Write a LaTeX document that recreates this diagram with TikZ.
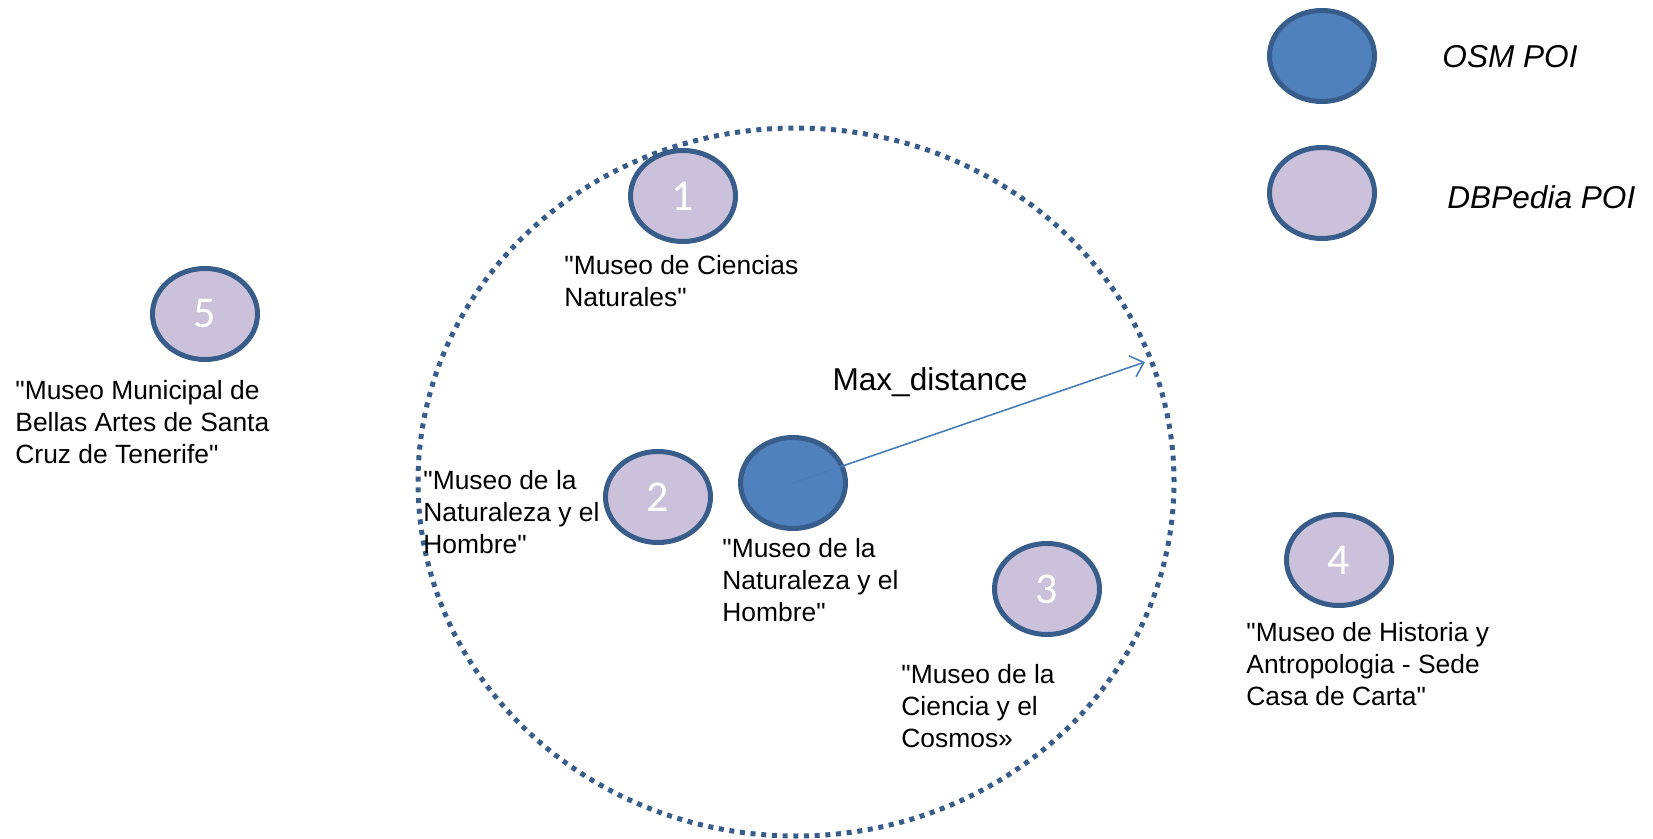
\documentclass[tikz,border=0pt]{standalone}
\usepackage{fontspec}
\setmainfont{Liberation Sans}[Ligatures=TeXOff]
\newfontfamily\numfont{Carlito}
\usetikzlibrary{shapes.geometric,arrows.meta}
\definecolor{osmfill}{HTML}{4F81BD}
\definecolor{poistroke}{HTML}{385D8A}
\definecolor{dbfill}{HTML}{CCC1DA}
\definecolor{arrowblue}{HTML}{4A7EBB}
\begin{document}
\begin{tikzpicture}[x=0.5pt,y=-0.5pt,
 poi/.style={ellipse, draw=poistroke, line width=2.5pt, minimum width=52.5pt, minimum height=45.5pt, inner sep=0pt, font=\numfont\fontsize{22}{26}\selectfont, text=white},
 osm/.style={poi, fill=osmfill},
 dbp/.style={poi, fill=dbfill},
 lbl/.style={anchor=west, align=left, inner sep=0pt, font=\fontsize{13.2}{15.8}\selectfont},
 keytxt/.style={anchor=west, inner sep=0pt, font=\itshape\fontsize{15.8}{19}\selectfont},
 searchrange/.style={draw=poistroke, line width=2.5pt, dash pattern=on 2.5pt off 2.85pt},
 maxarrow/.style={draw=arrowblue, line width=0.8pt, -{Straight Barb[length=6pt,width=11pt]}}
]
\useasboundingbox (0,0) rectangle (1653,839);
% search radius
\draw[searchrange] (796,482) ellipse [x radius=189pt, y radius=177pt];
% legend
\node[osm] (osmkey) at (1322,56) {};
\node[keytxt] (osmkeytxt) at (1442,57) {OSM POI};
\node[dbp] (dbkey) at (1322,193) {};
\node[keytxt] (dbkeytxt) at (1447,197) {DBPedia POI};
% POIs
\node[dbp] (p1) at (683,196) {1};
\node[dbp] (p2) at (658,497) {2};
\node[dbp] (p3) at (1047,589) {3};
\node[dbp] (p4) at (1339,560) {4};
\node[dbp] (p5) at (205,314) {5};
\node[osm] (osm) at (793,483) {};
% labels
\node[lbl] (l1) at (564,281) {"Museo de Ciencias\\Naturales"};
\node[lbl] (l5) at (15,422) {"Museo Municipal de\\Bellas Artes de Santa\\Cruz de Tenerife"};
\node[lbl] (l2) at (423,512) {"Museo de la\\Naturaleza y el\\Hombre"};
\node[lbl] (lo) at (722,580) {"Museo de la\\Naturaleza y el\\Hombre"};
\node[lbl] (l3) at (901,706) {"Museo de la\\Ciencia y el\\Cosmos»};
\node[lbl] (l4) at (1246,664) {"Museo de Historia y\\Antropologia - Sede\\Casa de Carta"};
% max distance
\coordinate (tip) at (1145,362);
\draw[maxarrow] (osm.center) -- (tip);
\node[inner sep=0pt, font=\fontsize{15.8}{19}\selectfont] (maxlbl) at (930,382) {Max\_distance};
\end{tikzpicture}
\end{document}
